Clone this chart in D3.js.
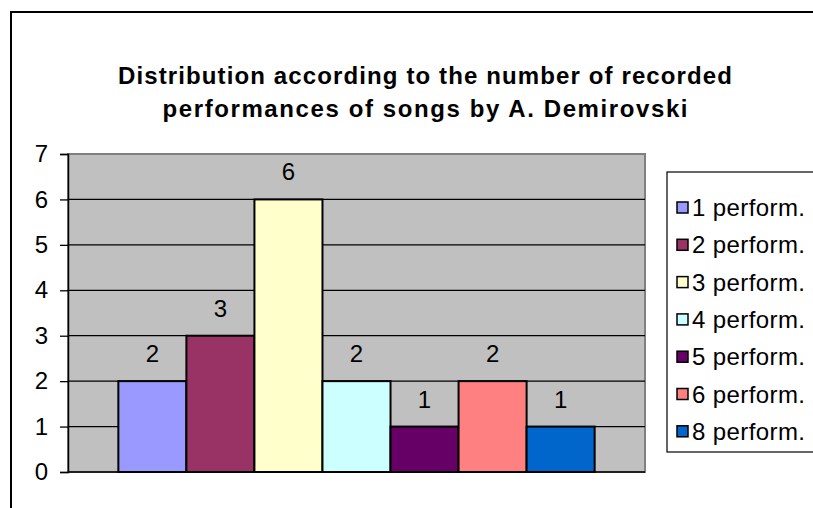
<!DOCTYPE html>
<html>
<head>
<meta charset="utf-8">
<script src="https://cdn.jsdelivr.net/npm/d3@7"></script>
<style>
body{margin:0;background:#fff;}
text{font-family:"Liberation Sans",Arial,sans-serif;}
</style>
</head>
<body>
<div id="chart"></div>
<script>
// data
var categories=['1 perform.','2 perform.','3 perform.','4 perform.','5 perform.','6 perform.','8 perform.'];
var values=[2,3,6,2,1,2,1];
var colors=['#9999FF','#993366','#FFFFCC','#CCFFFF','#660066','#FF8080','#0066CC'];
var yTicks=[0,1,2,3,4,5,6,7];
var titleLines=['Distribution according to the number of recorded','performances of songs by A. Demirovski'];
var titleWidths=[614,525];

var W=813,H=508;
var plot={left:68,right:645,top:154,bottom:472};

var svg=d3.select('#chart').append('svg')
	.attr('width',W)
	.attr('height',H);

// outer chart border (right/bottom fall outside the picture)
svg.append('rect')
	.attr('x',11).attr('y',12)
	.attr('width',W+20).attr('height',H+20)
	.style('fill','#fff')
	.style('stroke','#000')
	.style('stroke-width',2);

// title
svg.append('g').selectAll('text').data(titleLines).enter().append('text')
	.attr('x',425)
	.attr('y',function(d,i){return 84+i*33;})
	.attr('text-anchor','middle')
	.attr('textLength',function(d,i){return titleWidths[i];})
	.attr('lengthAdjust','spacing')
	.style('font-size','24px')
	.style('font-weight','bold')
	.text(function(d){return d;});

var x=d3.scaleBand()
	.domain(categories)
	.range([plot.left,plot.right])
	.paddingInner(0)
	.paddingOuter(0.74);

var y=d3.scaleLinear()
	.domain([0,7])
	.range([plot.bottom,plot.top]);

// plot area
svg.append('rect')
	.attr('x',plot.left).attr('y',plot.top)
	.attr('width',plot.right-plot.left)
	.attr('height',plot.bottom-plot.top)
	.style('fill','#C0C0C0')
	.style('stroke','#808080')
	.style('stroke-width',2);

// gridlines
svg.append('g').selectAll('line').data(yTicks.filter(function(d){return d>0&&d<7;})).enter().append('line')
	.attr('x1',plot.left).attr('x2',plot.right)
	.attr('y1',function(d){return y(d);})
	.attr('y2',function(d){return y(d);})
	.style('stroke','#000')
	.style('stroke-width',1.3);

// y axis
var yAxis=d3.axisLeft(y).tickValues(yTicks).tickSize(8).tickPadding(12).tickFormat(d3.format('d'));
var ya=svg.append('g')
	.attr('transform','translate('+plot.left+',0)')
	.call(yAxis);
ya.select('.domain').style('stroke','#000').style('stroke-width',1.5);
ya.selectAll('.tick line').style('stroke','#000').style('stroke-width',1.3);
ya.selectAll('.tick text')
	.style('font-size','24px')
	.style('fill','#000')
	.style('font-family','"Liberation Sans",Arial,sans-serif');

// baseline
svg.append('line')
	.attr('x1',plot.left).attr('x2',plot.right)
	.attr('y1',y(0)).attr('y2',y(0))
	.style('stroke','#000')
	.style('stroke-width',1.5);

// bars
svg.append('g').selectAll('rect').data(values).enter().append('rect')
	.attr('x',function(d,i){return x(categories[i]);})
	.attr('y',function(d){return y(d);})
	.attr('width',x.bandwidth())
	.attr('height',function(d){return y(0)-y(d);})
	.style('fill',function(d,i){return colors[i];})
	.style('stroke','#000')
	.style('stroke-width',2);

// value labels
svg.append('g').selectAll('text').data(values).enter().append('text')
	.attr('x',function(d,i){return x(categories[i])+x.bandwidth()/2;})
	.attr('y',function(d){return y(d)-19;})
	.attr('text-anchor','middle')
	.style('font-size','24px')
	.text(function(d){return d;});

// legend
var legend=svg.append('g').attr('transform','translate(667,172)');
legend.append('rect')
	.attr('width',180).attr('height',280)
	.style('fill','#fff')
	.style('stroke','#000')
	.style('stroke-width',1.2);

var item=legend.selectAll('g.item').data(categories).enter().append('g')
	.attr('class','item')
	.attr('transform',function(d,i){return 'translate(0,'+(36+i*37.3)+')';});
item.append('rect')
	.attr('x',10).attr('y',-6)
	.attr('width',11).attr('height',11)
	.style('fill',function(d,i){return colors[i];})
	.style('stroke','#000')
	.style('stroke-width',1.5);
item.append('text')
	.attr('x',25).attr('y',8)
	.attr('textLength',113)
	.attr('lengthAdjust','spacing')
	.style('font-size','24px')
	.text(function(d){return d;});
</script>
</body>
</html>
